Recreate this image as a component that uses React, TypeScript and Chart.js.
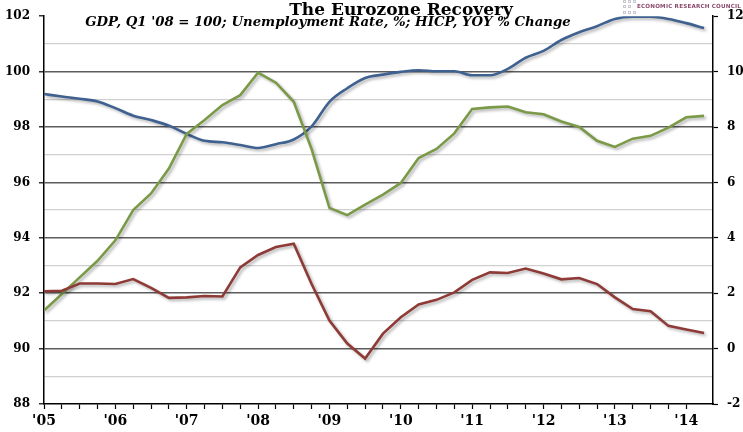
import React, { useEffect, useRef } from "react";
import { Chart, registerables } from "chart.js";

Chart.register(...registerables);

// Quarterly observations, Q1 2005 .. Q2 2014
const quarterIndex: number[] = Array.from({ length: 38 }, (_, i) => i);

// GDP index, Q1 '08 = 100 (left axis)
const gdpIndex: number[] = [
  99.19, 99.1, 99.02, 98.92, 98.68, 98.41, 98.25, 98.05, 97.75, 97.5,
  97.45, 97.35, 97.24, 97.38, 97.55, 98.02, 98.91, 99.4, 99.77, 99.89,
  99.99, 100.05, 100.01, 100.01, 99.87, 99.87, 100.1, 100.5, 100.75, 101.14,
  101.42, 101.64, 101.9, 101.98, 101.98, 101.9, 101.75, 101.57,
];

// Unemployment rate, % (right axis)
const unemploymentRate: number[] = [
  1.37, 1.97, 2.57, 3.17, 3.91, 5.0, 5.6, 6.5, 7.75, 8.25,
  8.79, 9.15, 9.96, 9.6, 8.91, 7.2, 5.08, 4.82, 5.2, 5.56,
  5.98, 6.88, 7.21, 7.77, 8.65, 8.71, 8.74, 8.53, 8.46, 8.2,
  8.0, 7.5, 7.28, 7.58, 7.68, 7.98, 8.35, 8.4,
];

// HICP, year-on-year % change (right axis)
const hicpChange: number[] = [
  2.07, 2.09, 2.35, 2.35, 2.33, 2.51, 2.19, 1.83, 1.85, 1.9,
  1.88, 2.93, 3.38, 3.67, 3.79, 2.33, 1.01, 0.18, -0.36, 0.54,
  1.13, 1.59, 1.76, 2.03, 2.48, 2.75, 2.73, 2.89, 2.71, 2.5,
  2.55, 2.33, 1.85, 1.43, 1.35, 0.82, 0.69, 0.56,
];

// Year labels, one per four quarters
const yearLabels: string[] = ["'05", "'06", "'07", "'08", "'09", "'10", "'11", "'12", "'13", "'14"];

const TITLE = "The Eurozone Recovery";
const SUBTITLE = "GDP, Q1 '08 = 100; Unemployment Rate, %; HICP, YOY % Change";
const BRAND = "ECONOMIC RESEARCH COUNCIL";

const tickFont = { family: "'DejaVu Serif', serif", size: 12, weight: "bold" as const };

// Soft drop shadow under every series line
const lineShadow = {
  id: "lineShadow",
  beforeDatasetsDraw(chart: Chart) {
    const ctx = chart.ctx;
    ctx.save();
    ctx.shadowColor = "rgba(0,0,0,0.3)";
    ctx.shadowBlur = 3;
    ctx.shadowOffsetX = 2;
    ctx.shadowOffsetY = 2;
  },
  afterDatasetsDraw(chart: Chart) {
    chart.ctx.restore();
  },
};

export default function App() {
  const canvasRef = useRef<HTMLCanvasElement | null>(null);

  useEffect(() => {
    if (!canvasRef.current) return;
    const toPoints = (vals: number[]) => vals.map((y, i) => ({ x: quarterIndex[i], y }));
    const chart = new Chart(canvasRef.current, {
      type: "line",
      data: {
        datasets: [
          {
            label: "HICP, YOY % Change",
            data: toPoints(hicpChange),
            yAxisID: "y2",
            borderColor: "#8e3a37",
            borderWidth: 2.6,
            pointRadius: 0,
            tension: 0,
          },
          {
            label: "Unemployment Rate, %",
            data: toPoints(unemploymentRate),
            yAxisID: "y2",
            borderColor: "#7a9a47",
            borderWidth: 2.6,
            pointRadius: 0,
            tension: 0,
          },
          {
            label: "GDP, Q1 '08 = 100",
            data: toPoints(gdpIndex),
            yAxisID: "y",
            borderColor: "#3f6190",
            borderWidth: 2.6,
            pointRadius: 0,
            cubicInterpolationMode: "monotone",
          },
        ],
      },
      options: {
        responsive: false,
        animation: false,
        layout: { padding: { top: 14, left: 0, right: 0, bottom: 0 } },
        plugins: {
          legend: { display: false },
          tooltip: { enabled: false },
        },
        scales: {
          x: {
            type: "linear",
            min: 0,
            max: 37.5,
            afterBuildTicks: (scale: any) => {
              scale.ticks = scale.ticks.filter((t: any) => Number.isInteger(t.value));
            },
            afterFit: (scale: any) => {
              scale.height = 28;
            },
            border: { display: true, color: "#000", width: 1.5 },
            grid: {
              drawOnChartArea: false,
              drawTicks: true,
              tickLength: 5,
              tickColor: "#000",
              tickWidth: 1.2,
            },
            ticks: {
              stepSize: 1,
              autoSkip: false,
              maxRotation: 0,
              padding: 4,
              color: "#000",
              font: { ...tickFont, size: 14 },
              callback: (v: any) => (Number(v) % 4 === 0 ? yearLabels[Number(v) / 4] : ""),
            },
          },
          y: {
            position: "left",
            min: 88,
            max: 102,
            afterFit: (scale: any) => {
              scale.width = 44;
            },
            border: { display: true, color: "#000", width: 1.5 },
            grid: {
              color: (c: any) => {
                const v = c.tick.value;
                if (v === 102 || v === 88) return "rgba(0,0,0,0)";
                return v % 2 === 0 ? "#5c5c5c" : "#d0d0d0";
              },
              lineWidth: (c: any) => (c.tick.value % 2 === 0 ? 1.6 : 1.3),
              tickColor: (c: any) => (c.tick.value % 2 === 0 ? "#000" : "rgba(0,0,0,0)"),
              tickLength: 5,
              tickWidth: 1.2,
            },
            ticks: {
              stepSize: 1,
              autoSkip: false,
              padding: 9,
              color: "#000",
              font: tickFont,
              callback: (v: any) => (Number(v) % 2 === 0 ? String(v) : ""),
            },
          },
          y2: {
            position: "right",
            min: -2,
            max: 12,
            afterFit: (scale: any) => {
              scale.width = 30;
            },
            border: { display: true, color: "#000", width: 1.5 },
            grid: {
              drawOnChartArea: false,
              tickColor: (c: any) => (c.tick.value % 2 === 0 ? "#000" : "rgba(0,0,0,0)"),
              tickLength: 5,
              tickWidth: 1.2,
            },
            ticks: {
              stepSize: 1,
              autoSkip: false,
              padding: 9,
              color: "#000",
              font: tickFont,
              callback: (v: any) => (Number(v) % 2 === 0 ? String(v) : ""),
            },
          },
        },
      },
      plugins: [lineShadow],
    });
    return () => chart.destroy();
  }, []);

  const square = (left: number, top: number) => (
    <span
      key={`${left}-${top}`}
      style={{
        position: "absolute",
        left,
        top,
        width: 3,
        height: 3,
        border: "1px solid #c8c8d0",
        boxSizing: "border-box",
      }}
    />
  );

  return (
    <div
      style={{
        position: "fixed",
        left: 0,
        top: 0,
        width: 743,
        height: 432,
        background: "#fff",
        overflow: "hidden",
      }}
    >
      <canvas ref={canvasRef} width={743} height={432} style={{ display: "block" }} />
      <div
        style={{
          position: "absolute",
          left: 401,
          top: -1,
          transform: "translateX(-50%)",
          whiteSpace: "nowrap",
          fontFamily: "'DejaVu Serif', serif",
          fontWeight: "bold",
          fontSize: 17,
          color: "#000",
        }}
      >
        {TITLE}
      </div>
      <div
        style={{
          position: "absolute",
          left: 328,
          top: 14,
          transform: "translateX(-50%)",
          whiteSpace: "nowrap",
          fontFamily: "'DejaVu Serif', serif",
          fontWeight: "bold",
          fontStyle: "italic",
          fontSize: 13.3,
          color: "#000",
        }}
      >
        {SUBTITLE}
      </div>
      {[623, 628, 633].map((x) => square(x, 0))}
      {[623, 628].map((x) => square(x, 5))}
      {[623, 628, 633].map((x) => square(x, 11))}
      <div
        style={{
          position: "absolute",
          left: 637,
          top: 3,
          whiteSpace: "nowrap",
          fontFamily: "'DejaVu Sans', sans-serif",
          fontWeight: "bold",
          fontSize: 5.6,
          letterSpacing: 0.2,
          color: "#8a4a6c",
        }}
      >
        {BRAND}
      </div>
    </div>
  );
}
